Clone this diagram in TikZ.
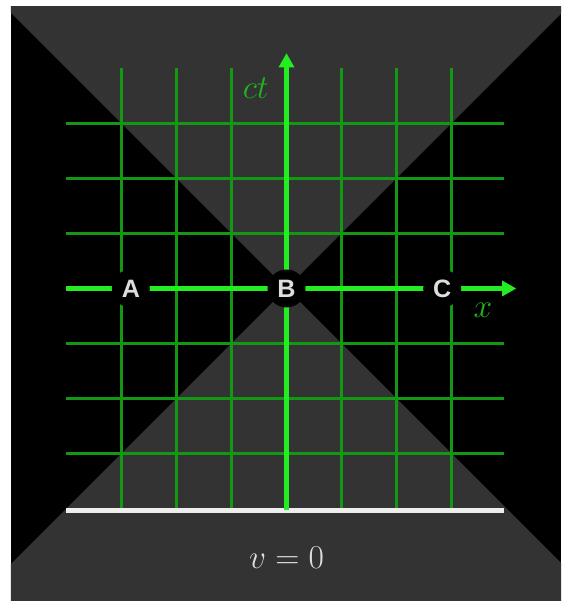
\documentclass[tikz,border=0pt]{standalone}
\usepackage{fontspec}
\usepackage{xcolor}
\usepackage{tikz}
\usetikzlibrary{arrows.meta}
\newfontfamily\eventfont{Liberation Sans}
\definecolor{conegray}{HTML}{333333}
\definecolor{gridgreen}{HTML}{139813}
\definecolor{axisgreen}{HTML}{22EE22}
\definecolor{textgreen}{HTML}{1EB41E}
\definecolor{labelgray}{HTML}{DDDDDD}
\definecolor{basewhite}{HTML}{EEEEEE}
\tikzset{
  gridline/.style={draw=gridgreen, line width=1.4pt},
  axisline/.style={draw=axisgreen, line width=2.2pt, -{Triangle[length=0.26cm,width=0.27cm]}},
  eventdot/.style={
    circle,
    fill=black,
    minimum size=0.69cm,
    inner sep=0pt,
    text=labelgray,
    font=\eventfont\bfseries\fontsize{13}{13}\selectfont
  },
  axislabel/.style={text=textgreen, font=\fontsize{16}{18}\selectfont}
}

\begin{document}
\begin{tikzpicture}[x=1cm,y=1cm]
  % frame
  \fill[white] (-5.209,-5.682) rectangle (4.991,5.245);
  \useasboundingbox (-5.209,-5.682) rectangle (4.991,5.245);
  \fill[black] (-5.009,-5.682) rectangle (4.991,5.118);

  % light cone
  \begin{scope}
    \clip (-5.009,-5.682) rectangle (4.991,5.118);
    \fill[conegray] (0,0) -- (-6,6) -- (6,6) -- cycle;
    \fill[conegray] (0,0) -- (-6,-6) -- (6,-6) -- cycle;
  \end{scope}

  % grid
  \foreach \k in {-3,-2,-1,1,2,3} {
    \draw[gridline] (\k,-4.03) -- (\k,4.01);
    \draw[gridline] (-4,\k) -- (3.95,\k);
  }

  % base line
  \draw[basewhite, line width=2.6pt] (-4,-4.03) -- (3.95,-4.03);

  % axes
  \coordinate (xstart) at (-4,0);
  \coordinate (xend) at (4.18,0);
  \coordinate (tstart) at (0,-4.03);
  \coordinate (tend) at (0,4.28);
  \draw[axisline] (xstart) -- (xend);
  \draw[axisline] (tstart) -- (tend);

  % events
  \node[eventdot] (A) at (-2.83,0) {A};
  \node[eventdot] (B) at (0,0) {B};
  \node[eventdot] (C) at (2.83,0) {C};

  % labels
  \node[axislabel] (ctlabel) at (-0.56,3.64) {$ct$};
  \node[axislabel] (xlabel) at (3.57,-0.40) {$x$};
  \node[text=labelgray, font=\fontsize{18.5}{20}\selectfont] (vlabel) at (0,-4.9) {$v=0$};
\end{tikzpicture}
\end{document}
